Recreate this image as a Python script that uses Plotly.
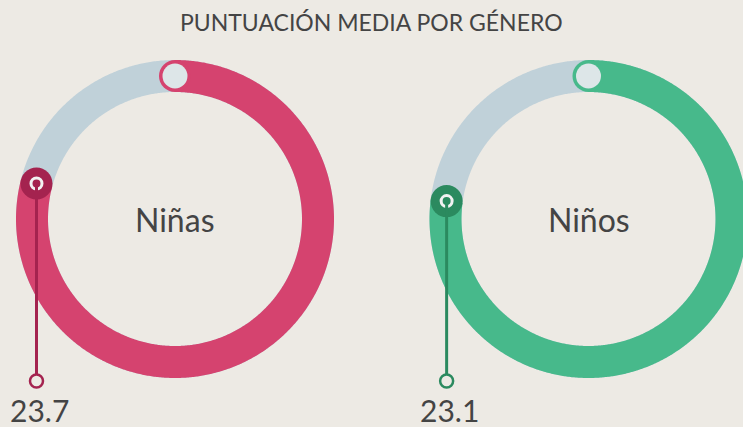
import numpy as np
import plotly.graph_objects as go

# ---- data ----
groups = ["Niñas", "Niños"]
scores = [23.7, 23.1]
max_score = 30
title_text = "PUNTUACIÓN MEDIA POR GÉNERO"

# ---- style ----
W, H = 743, 427
BG = "#EDEAE4"
TRACK = "#C0D1D9"
MAIN = ["#D5436F", "#47B98B"]
DARK = ["#A4234F", "#2B8A5F"]
LIGHT = "#DDE6E8"
TEXT = "#444444"
FONT = "Lato"
centers_x = [175, 588.5]
center_y = H - 219
R = 143
BAND = 32
bottom_y = H - 381
label_y = H - 410

fig = go.Figure()

def pt(cx, cy, theta):
    return cx + R * np.sin(theta), cy + R * np.cos(theta)

for i, (name, val) in enumerate(zip(groups, scores)):
    cx, cy = centers_x[i], center_y
    # full track
    t = np.linspace(0, 2 * np.pi, 721)
    x, y = pt(cx, cy, t)
    fig.add_trace(go.Scatter(x=x, y=y, mode="lines",
                             line=dict(color=TRACK, width=BAND, simplify=False),
                             hoverinfo="skip"))
    # progress arc
    th_end = val / max_score * 2 * np.pi
    t = np.linspace(0, th_end, 600)
    x, y = pt(cx, cy, t)
    fig.add_trace(go.Scatter(x=x, y=y, mode="lines",
                             line=dict(color=MAIN[i], width=BAND, simplify=False),
                             hoverinfo="skip"))
    # start cap + marker
    sx, sy = pt(cx, cy, 0.0)
    fig.add_trace(go.Scatter(x=[sx], y=[sy], mode="markers",
                             marker=dict(size=BAND, color=MAIN[i], line=dict(width=0)),
                             hoverinfo="skip"))
    fig.add_trace(go.Scatter(x=[sx], y=[sy], mode="markers",
                             marker=dict(size=25, color=LIGHT, line=dict(width=0)),
                             hoverinfo="skip"))
    # end marker
    ex, ey = pt(cx, cy, th_end)
    fig.add_trace(go.Scatter(x=[ex], y=[ey], mode="markers",
                             marker=dict(size=BAND, color=DARK[i], line=dict(width=0)),
                             hoverinfo="skip"))
    fig.add_trace(go.Scatter(x=[ex], y=[ey], mode="markers",
                             marker=dict(size=11, symbol="circle-open", color="#F2F2F2",
                                         line=dict(width=3, color="#F2F2F2")),
                             hoverinfo="skip"))
    # leader line
    fig.add_trace(go.Scatter(x=[ex, ex], y=[ey, bottom_y], mode="lines",
                             line=dict(color=DARK[i], width=3), hoverinfo="skip"))
    fig.add_trace(go.Scatter(x=[ex], y=[bottom_y], mode="markers",
                             marker=dict(size=13, color=BG, line=dict(width=2.5, color=DARK[i])),
                             hoverinfo="skip"))
    # value label
    fig.add_annotation(x=ex + 3, y=label_y, text=f"{val}", showarrow=False,
                       font=dict(family=FONT, size=30, color=TEXT),
                       xanchor="center", yanchor="middle")
    # center label
    fig.add_annotation(x=cx, y=cy, text=name, showarrow=False,
                       font=dict(family=FONT, size=32, color=TEXT),
                       xanchor="center", yanchor="middle")

fig.add_annotation(x=W / 2, y=H - 22, text=title_text, showarrow=False,
                   font=dict(family=FONT, size=23, color=TEXT),
                   xanchor="center", yanchor="middle")

fig.update_layout(
    width=W, height=H,
    margin=dict(l=0, r=0, t=0, b=0),
    paper_bgcolor=BG, plot_bgcolor=BG,
    showlegend=False,
    xaxis=dict(range=[0, W], visible=False, fixedrange=True),
    yaxis=dict(range=[0, H], visible=False, fixedrange=True),
)

fig.write_html(
    "out.html",
    config={"displayModeBar": False, "staticPlot": True},
    post_script="document.body.style.margin='0';document.body.style.overflow='hidden';",
)
